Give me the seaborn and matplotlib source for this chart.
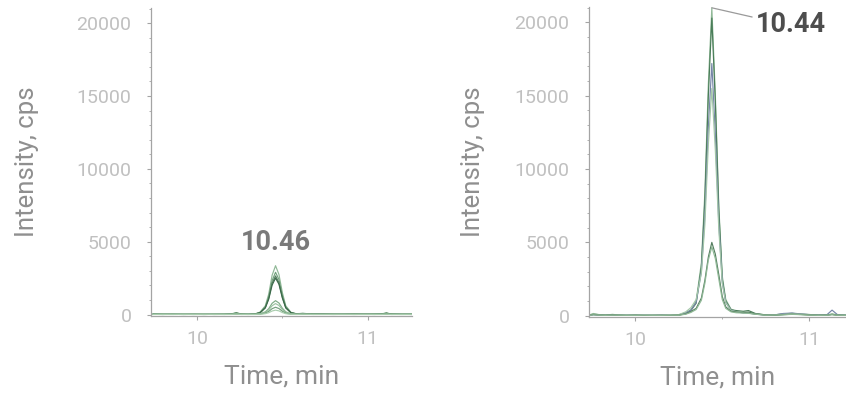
import matplotlib
matplotlib.use("Agg")
import matplotlib.pyplot as plt
from matplotlib.ticker import MultipleLocator, FixedLocator
import numpy as np
import pandas as pd
import seaborn as sns

# ---- left chromatogram (apex 10.46 min) ----
time_left = [9.74, 9.80, 9.86, 9.92, 9.98, 10.04, 10.10, 10.16, 10.20, 10.23,
             10.26, 10.30, 10.34, 10.37, 10.40, 10.42, 10.44, 10.46, 10.48, 10.50,
             10.52, 10.55, 10.58, 10.62, 10.68, 10.74, 10.80, 10.86, 10.92, 10.98,
             11.04, 11.08, 11.11, 11.14, 11.20, 11.26]
left_a = [20, 10, 15, 5, 10, 5, 10, 15, 40, 130, 30, 15, 40, 170, 600, 1400, 2700, 3350, 2750, 1500,
          600, 150, 60, 70, 30, 20, 25, 15, 30, 15, 20, 40, 110, 30, 15, 10]
left_b = [15, 20, 10, 15, 5, 10, 15, 10, 30, 90, 25, 10, 30, 150, 520, 1200, 2330, 2900, 2400, 1300,
          520, 140, 50, 60, 25, 15, 20, 10, 25, 10, 15, 30, 80, 25, 10, 15]
left_c = [10, 5, 20, 10, 15, 5, 10, 20, 25, 110, 20, 15, 35, 140, 480, 1120, 2150, 2650, 2180, 1200,
          480, 130, 45, 80, 30, 20, 10, 20, 15, 20, 10, 25, 100, 20, 15, 5]
left_d = [25, 15, 10, 5, 10, 15, 5, 10, 20, 70, 15, 10, 25, 120, 450, 1050, 2020, 2500, 2080, 1130,
          450, 120, 40, 50, 20, 25, 15, 10, 20, 15, 25, 20, 70, 20, 10, 20]
left_e = [10, 5, 10, 5, 10, 5, 10, 5, 15, 50, 10, 5, 15, 60, 180, 400, 770, 950, 790, 430,
          180, 50, 20, 30, 15, 10, 5, 10, 5, 10, 5, 15, 40, 10, 5, 10]
left_f = [5, 10, 5, 10, 5, 10, 5, 10, 10, 40, 10, 5, 10, 45, 140, 320, 600, 750, 620, 340,
          140, 40, 15, 25, 10, 5, 10, 5, 10, 5, 10, 10, 30, 10, 5, 5]
left_g = [10, 5, 5, 10, 5, 5, 10, 5, 10, 30, 5, 10, 10, 30, 95, 210, 400, 500, 410, 225,
          95, 25, 10, 20, 5, 10, 5, 10, 5, 10, 5, 10, 25, 5, 10, 5]
left_h = [5, 5, 10, 5, 5, 10, 5, 5, 5, 20, 5, 5, 5, 20, 55, 125, 240, 300, 250, 135,
          55, 15, 5, 15, 5, 5, 5, 5, 5, 5, 5, 5, 15, 5, 5, 5]

# ---- right chromatogram (apex 10.44 min) ----
time_right = [9.74, 9.76, 9.79, 9.83, 9.87, 9.90, 9.95, 10.00, 10.05, 10.10,
              10.15, 10.20, 10.25, 10.29, 10.32, 10.35, 10.38, 10.40, 10.42, 10.44,
              10.46, 10.48, 10.50, 10.52, 10.55, 10.58, 10.62, 10.65, 10.69, 10.75,
              10.80, 10.85, 10.90, 10.95, 11.00, 11.05, 11.10, 11.13, 11.16, 11.21]
right_a = [60, 150, 80, 40, 90, 50, 30, 40, 30, 20, 30, 20, 60, 200, 400, 1000, 3600, 8400, 15800, 21000,
           15100, 7500, 2700, 1100, 450, 300, 250, 200, 120, 60, 40, 80, 120, 90, 60, 40, 50, 120, 60, 40]
right_b = [40, 90, 60, 30, 60, 40, 20, 30, 20, 30, 20, 30, 40, 150, 350, 850, 3300, 7900, 15000, 20300,
           14600, 7200, 2500, 1000, 400, 350, 300, 350, 150, 50, 60, 120, 160, 110, 80, 30, 40, 80, 40, 30]
right_c = [30, 60, 40, 20, 50, 30, 30, 20, 30, 20, 30, 20, 50, 180, 380, 900, 3000, 6800, 12900, 17200,
           12400, 6300, 2300, 900, 380, 250, 200, 180, 100, 40, 50, 150, 180, 120, 70, 40, 60, 380, 80, 30]
right_d = [50, 110, 70, 30, 70, 40, 30, 30, 20, 30, 20, 30, 70, 260, 550, 1100, 2900, 6200, 11700, 15500,
           11300, 5900, 2200, 900, 350, 280, 220, 180, 110, 50, 40, 90, 130, 100, 60, 30, 40, 100, 50, 30]
right_e = [40, 80, 50, 30, 60, 30, 20, 30, 20, 20, 30, 20, 40, 120, 280, 500, 1200, 2400, 4000, 5000,
           4200, 2800, 1300, 600, 300, 250, 200, 250, 120, 40, 30, 70, 100, 80, 50, 30, 40, 90, 40, 20]
right_f = [30, 60, 40, 20, 40, 30, 20, 20, 30, 20, 20, 30, 30, 100, 220, 420, 1050, 2200, 3800, 4700,
           3900, 2500, 1100, 500, 260, 200, 180, 160, 100, 30, 40, 60, 90, 70, 40, 20, 30, 70, 30, 20]

left_traces = {"a": left_a, "b": left_b, "c": left_c, "d": left_d,
               "e": left_e, "f": left_f, "g": left_g, "h": left_h}
right_traces = {"a": right_a, "b": right_b, "c": right_c,
                "d": right_d, "e": right_e, "f": right_f}

left_colors = {"a": "#8fb896", "b": "#72a27c", "c": "#557f60", "d": "#3b6a4a",
               "e": "#80ad88", "f": "#9cc3a2", "g": "#74a17d", "h": "#a9cdae"}
right_colors = {"a": "#8fb896", "b": "#4a7d59", "c": "#7686a8",
                "d": "#a3c7a8", "e": "#557f60", "f": "#8fb896"}

left_apex = 10.46
right_apex = 10.44
right_apex_height = max(right_a)


def long_form(times, traces):
    frames = []
    for name, vals in traces.items():
        frames.append(pd.DataFrame({"time": times, "intensity": vals, "trace": name}))
    return pd.concat(frames, ignore_index=True)


sns.set_theme(style="white")
plt.rcParams["font.family"] = ["Roboto", "DejaVu Sans"]

TICK_GREY = "#c0c0c0"
LABEL_GREY = "#8f8f8f"
SPINE_GREY = "#a4a4a4"

fig = plt.figure(figsize=(8.46, 3.93), dpi=100)
ax_l = fig.add_axes([0.1785, 0.196, 0.3085, 0.784])
ax_r = fig.add_axes([0.6962, 0.193, 0.3038, 0.789])


def style_axis(ax, xlim, ylabel_pad):
    ax.set_xlim(*xlim)
    ax.set_ylim(-100, 21050)
    for side in ("top", "right"):
        ax.spines[side].set_visible(False)
    for side in ("left", "bottom"):
        ax.spines[side].set_color(SPINE_GREY)
        ax.spines[side].set_linewidth(0.9)
    ax.yaxis.set_major_locator(MultipleLocator(5000))
    ax.yaxis.set_minor_locator(MultipleLocator(1000))
    ax.xaxis.set_major_locator(FixedLocator([10, 11]))
    ax.xaxis.set_minor_locator(FixedLocator([10.5]))
    ax.tick_params(axis="y", which="major", direction="out", length=3, width=0.8,
                   color=SPINE_GREY, labelcolor=TICK_GREY, labelsize=14, pad=11,
                   left=True)
    ax.tick_params(axis="x", which="major", direction="out", length=3, width=0.8,
                   color=SPINE_GREY, labelcolor=TICK_GREY, labelsize=14, pad=7,
                   bottom=True)
    ax.tick_params(axis="both", which="minor", direction="out", length=1.6, width=0.6,
                   color=SPINE_GREY, left=True, bottom=True)
    ax.set_xlabel("Time, min", fontsize=19, color=LABEL_GREY, labelpad=12)
    ax.set_ylabel("Intensity, cps", fontsize=18.5, color=LABEL_GREY, labelpad=ylabel_pad)
    ax.set_facecolor("white")
    ax.grid(False)


sns.lineplot(data=long_form(time_left, left_traces), x="time", y="intensity", hue="trace",
             palette=left_colors, estimator=None, sort=False, linewidth=0.85,
             legend=False, ax=ax_l)
sns.lineplot(data=long_form(time_right, right_traces), x="time", y="intensity", hue="trace",
             palette=right_colors, estimator=None, sort=False, linewidth=0.85,
             legend=False, ax=ax_r)

style_axis(ax_l, (9.73, 11.26), 27)
style_axis(ax_r, (9.735, 11.21), 21)

ax_l.text(left_apex, 4450, f"{left_apex:.2f}", ha="center", va="baseline",
          fontsize=19.5, fontweight="bold", color="#7a7a7a")

ax_r.annotate(f"{right_apex:.2f}", xy=(right_apex, right_apex_height),
              xytext=(10.69, 19350), ha="left", va="baseline",
              fontsize=19.5, fontweight="bold", color="#4d4d4d",
              arrowprops=dict(arrowstyle="-", color="#9a9a9a", lw=0.9,
                              shrinkA=0, shrinkB=0,
                              relpos=(0.0, 0.75)))

fig.savefig("out.png", dpi=100, facecolor="white")
